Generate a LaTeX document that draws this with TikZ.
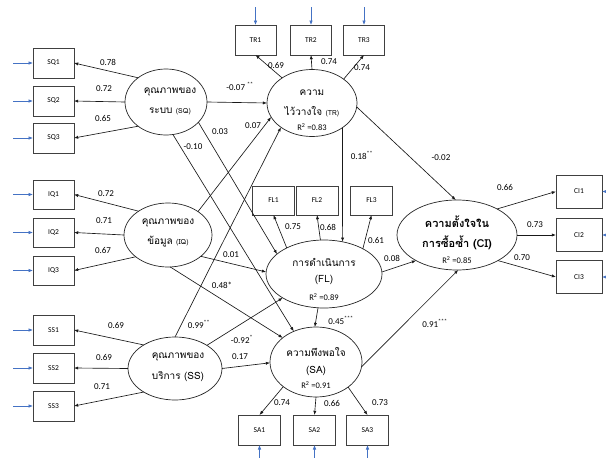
\documentclass[tikz,border=0pt]{standalone}
\usepackage{fontspec}
\setmainfont{Carlito}
\newfontfamily\thaifont[Script=Thai]{Loma}
\usetikzlibrary{arrows.meta,shapes.geometric}
\definecolor{inblue}{HTML}{4472C4}
\definecolor{boxgray}{HTML}{404040}

\begin{document}
\begin{tikzpicture}[x=1pt,y=-1pt,
  latent/.style={ellipse,draw=black!85,line width=0.7pt,inner sep=0pt,outer sep=0pt},
  obs/.style={rectangle,draw=boxgray,line width=0.9pt,minimum width=41pt,minimum height=30pt,
    inner sep=0pt,outer sep=0pt,font=\fontsize{7.5}{9}\selectfont},
  reg/.style={draw=black!90,line width=0.65pt,-{Latex[length=4.2pt,width=3.2pt]}},
  err/.style={draw=inblue,line width=0.7pt,-{Latex[length=4.5pt,width=3.6pt]}},
  coef/.style={font=\fontsize{9}{11}\selectfont,inner sep=0pt},
  th/.style={font=\thaifont\fontsize{10}{12}\selectfont,inner sep=0pt},
  thb/.style={font=\thaifont\bfseries\fontsize{11}{13}\selectfont,inner sep=0pt},
  rsq/.style={font=\fontsize{8.5}{10}\selectfont,inner sep=0pt},
]
\useasboundingbox (0,0) rectangle (606,458);
\fill[white] (0,0) rectangle (606,458);

% ---- latent constructs ----
\node[latent,minimum width=82pt,minimum height=66pt] (sq) at (166,102) {};
\node[latent,minimum width=90pt,minimum height=67pt] (tr) at (312,103) {};
\node[latent,minimum width=88pt,minimum height=64pt] (iq) at (168,235) {};
\node[latent,minimum width=94pt,minimum height=63pt] (ss) at (175,368.5) {};
\node[latent,minimum width=116pt,minimum height=68pt] (fl) at (324,274) {};
\node[latent,minimum width=120pt,minimum height=70pt] (ci) at (457,235) {};
\node[latent,minimum width=92pt,minimum height=70pt] (sa) at (316,362) {};

% ---- construct labels ----
\node[th] (sqa) at (170,92) {คุณภาพของ};
\node[th] (sqb) at (170,111) {ระบบ {\fontsize{7}{8}\selectfont (SQ)}};
\node[th] (tra) at (312,93) {ความ};
\node[th] (trb) at (312,112) {ไว้วางใจ {\fontsize{7}{8}\selectfont (TR)}};
\node[rsq] (trr) at (312,127) {R\textsuperscript{2} =0.83};
\node[th] (iqa) at (168,223) {คุณภาพของ};
\node[th] (iqb) at (168,242) {ข้อมูล {\fontsize{7}{8}\selectfont (IQ)}};
\node[th] (ssa) at (178,357) {คุณภาพของ};
\node[th] (ssb) at (178,377) {บริการ (SS)};
\node[th] (fla) at (324,262) {การดำเนินการ};
\node[th] (flb) at (324,280) {(FL)};
\node[rsq] (flr) at (324,297) {R\textsuperscript{2} =0.89};
\node[thb] (cia) at (457,222) {ความตั้งใจใน};
\node[thb] (cib) at (457,243) {การซื้อซ้ำ (CI)};
\node[rsq] (cir) at (457,260) {R\textsuperscript{2} =0.85};
\node[th] (saa) at (316,352) {ความพึงพอใจ};
\node[th] (sab) at (316,371) {(SA)};
\node[rsq] (sar) at (316,385) {R\textsuperscript{2} =0.91};

% ---- indicators ----
\node[obs] (sq1) at (53.5,63) {SQ1};
\node[obs] (sq2) at (53.5,101) {SQ2};
\node[obs] (sq3) at (53.5,138) {SQ3};
\node[obs,minimum height=29pt] (iq1) at (53.5,194.5) {IQ1};
\node[obs,minimum height=29pt] (iq2) at (53.5,232.5) {IQ2};
\node[obs,minimum height=29pt] (iq3) at (53.5,270.5) {IQ3};
\node[obs] (ss1) at (53.5,330) {SS1};
\node[obs] (ss2) at (53.5,368) {SS2};
\node[obs] (ss3) at (53.5,406) {SS3};
\node[obs] (tr1) at (255.5,40) {TR1};
\node[obs] (tr2) at (311,40) {TR2};
\node[obs] (tr3) at (364,40) {TR3};
\node[obs,minimum width=42pt,minimum height=29pt] (fl1) at (273.5,200.5) {FL1};
\node[obs,minimum width=42pt,minimum height=29pt] (fl2) at (317,200.5) {FL2};
\node[obs,minimum width=42pt,minimum height=29pt] (fl3) at (371.5,200.5) {FL3};
\node[obs,minimum width=46pt,minimum height=33pt] (ci1) at (579,191.5) {CI1};
\node[obs,minimum width=46pt,minimum height=33pt] (ci2) at (579,235) {CI2};
\node[obs,minimum width=46pt,minimum height=33pt] (ci3) at (579,277) {CI3};
\node[obs,minimum width=42pt] (sa1) at (259.5,430) {SA1};
\node[obs,minimum width=42pt] (sa2) at (314.5,430) {SA2};
\node[obs,minimum width=42pt] (sa3) at (367.5,430) {SA3};

% ---- error terms ----
\foreach \b in {sq1,sq2,sq3,iq1,iq2,iq3,ss1,ss2,ss3}
  \draw[err] ([xshift=-20pt]\b.west) -- (\b.west);
\foreach \b in {tr1,tr2,tr3}
  \draw[err] ([yshift=18pt]\b.north) -- (\b.north);
\foreach \b in {sa1,sa2,sa3}
  \draw[err] ([yshift=-15pt]\b.south) -- (\b.south);
\foreach \b in {ci1,ci2,ci3}
  \draw[err] ([xshift=14pt]\b.east) -- (\b.east);

% ---- measurement paths ----
\draw[reg] (sq.139) -- (sq1.east);
\draw[reg] (sq.180) -- (sq2.east);
\draw[reg] (sq.221) -- (sq3.east);
\draw[reg] (iq.141) -- (iq1.east);
\draw[reg] (iq.180) -- (iq2.east);
\draw[reg] (iq.214) -- (iq3.east);
\draw[reg] (ss.143) -- (ss1.east);
\draw[reg] (ss.180) -- (ss2.east);
\draw[reg] (ss.217) -- (ss3.east);
\draw[reg] (tr.140) -- (tr1.south);
\draw[reg] (tr.90) -- (tr2.south);
\draw[reg] (tr.37) -- (tr3.south);
\draw[reg] (fl.145) -- (fl1.south);
\draw[reg] (fl.96) -- (fl2.south);
\draw[reg] (fl.33) -- (fl3.south);
\draw[reg] (sa.217) -- (sa1.north);
\draw[reg] (sa.-90) -- (sa2.north);
\draw[reg] (sa.-38) -- (sa3.north);
\draw[reg] (ci.33) -- (ci1.west);
\draw[reg] (ci.0) -- (ci2.west);
\draw[reg] (ci.-32) -- (ci3.west);

% ---- structural paths ----
\draw[reg] (sq.0) -- (tr.180);
\draw[reg] (sq.-32) -- (fl.157.6);
\draw[reg] (sq.-78) -- (sa.126.6);
\draw[reg] (iq.38.5) -- (tr.199.7);
\draw[reg] (iq.-33) -- (fl.178);
\draw[reg] (iq.-86) -- (sa.144.8);
\draw[reg] (ss.90) -- (tr.218.5);
\draw[reg] (ss.36.3) -- (fl.210.3);
\draw[reg] (ss.0) -- (sa.181);
\draw[reg] (tr.-39.4) -- (fl.60.9);
\draw[reg] (tr.-5) -- (ci.92);
\draw[reg] (fl.2) -- (ci.212.7);
\draw[reg] (fl.-100) -- (sa.92);
\draw[reg] (sa.-6) -- (ci.-88);

% ---- loadings ----
\node[coef] (l1) at (108,62) {0.78};
\node[coef] (l2) at (104,89) {0.72};
\node[coef] (l3) at (103,118) {0.65};
\node[coef] (l4) at (106,194) {0.72};
\node[coef] (l5) at (104,221) {0.71};
\node[coef] (l6) at (103,250) {0.67};
\node[coef] (l7) at (116,325) {0.69};
\node[coef] (l8) at (104,357) {0.69};
\node[coef] (l9) at (102,387) {0.71};
\node[coef] (l10) at (276,65) {0.69};
\node[coef] (l11) at (329,62) {0.74};
\node[coef] (l12) at (362,68) {0.74};
\node[coef] (l13) at (293,227) {0.75};
\node[coef] (l14) at (328,227) {0.68};
\node[coef] (l15) at (376,240) {0.61};
\node[coef] (l16) at (282,403) {0.74};
\node[coef] (l17) at (332,403) {0.66};
\node[coef] (l18) at (380,403) {0.73};
\node[coef] (l19) at (505,187) {0.66};
\node[coef] (l20) at (535,225) {0.73};
\node[coef] (l21) at (522,258) {0.70};

% ---- path coefficients ----
\node[coef] (p1) at (240,86) {-0.07 \textsuperscript{**}};
\node[coef] (p2) at (220,132) {0.03};
\node[coef] (p3) at (193,147) {-0.10};
\node[coef] (p4) at (253,126) {0.07};
\node[coef] (p5) at (231,255) {0.01};
\node[coef] (p6) at (222,285) {0.48*};
\node[coef] (p7) at (199,324) {0.99\textsuperscript{**}};
\node[coef] (p8) at (242,339) {-0.92\textsuperscript{*}};
\node[coef] (p9) at (240,357) {0.17};
\node[coef] (p10) at (362,155) {0.18\textsuperscript{**}};
\node[coef] (p11) at (441,158) {-0.02};
\node[coef] (p12) at (392,258) {0.08};
\node[coef] (p13) at (341,320) {0.45\textsuperscript{***}};
\node[coef] (p14) at (435,323) {0.91\textsuperscript{***}};
\end{tikzpicture}
\end{document}
